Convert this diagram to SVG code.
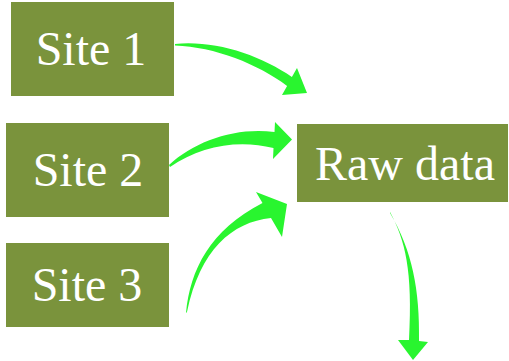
<svg xmlns="http://www.w3.org/2000/svg" width="509" height="361" viewBox="0 0 509 361">
<style>
.box{fill:#7A933C}
.lbl{font-family:"Liberation Serif","Times New Roman",serif;font-size:48px;fill:#FFFFFF;text-anchor:middle}
.arr{fill:#29F52F}
</style>
<rect width="509" height="361" fill="#FFFFFF"/>
<g id="connectors">
<path class="arr" d="M175,44 C215,40 260,55 291.9,77.1 L297,68 L307,93 L282,95 L287.1,85.9 C258,64 215,47 175,45.5 Z"/>
<path class="arr" d="M169,165 C195,141 235,127 274.5,132 L275,122 L292,139.5 L273,159 L273.5,148 C238,139 200,146 170,167 Z"/>
<path class="arr" d="M186,313 C190,270 210,230 262.5,203 L256,192 L287,204 L282,237 L271,218 C232,222 200,250 187,312 Z"/>
<path class="arr" d="M390,212 C405,240 413,270 409,340 L398,340 L413,360 L428,342 L419,341 C420,290 412,250 390,213 Z"/>
</g>
<g id="site1"><rect class="box" x="11" y="2" width="163" height="94"/><text class="lbl" x="91" y="65">Site 1</text></g>
<g id="site2"><rect class="box" x="6" y="123" width="163" height="94"/><text class="lbl" x="88" y="186">Site 2</text></g>
<g id="site3"><rect class="box" x="6" y="243" width="163" height="84"/><text class="lbl" x="87" y="301">Site 3</text></g>
<g id="rawdata"><rect class="box" x="297" y="124" width="211" height="78"/><text class="lbl" x="405" y="180">Raw data</text></g>
</svg>
